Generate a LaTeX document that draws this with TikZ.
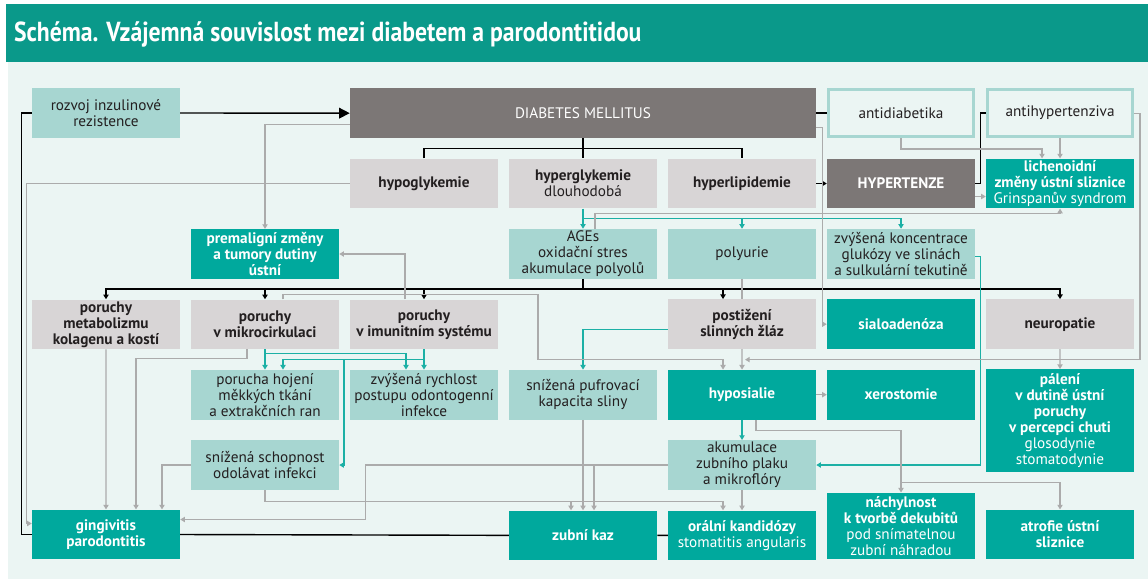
\documentclass[tikz,border=0pt]{standalone}
\usepackage{fontspec}
\setmainfont{PT Sans}
\newfontfamily\titlefont[FakeStretch=0.86]{PT Sans}
\usetikzlibrary{arrows.meta, positioning, calc}
\definecolor{barteal}{HTML}{0A998A}
\definecolor{boxteal}{HTML}{00A99D}
\definecolor{ltteal}{HTML}{A7D6D1}
\definecolor{lgray}{HTML}{D8D5D6}
\definecolor{dgray}{HTML}{7C7776}
\definecolor{bgtint}{HTML}{EBF5F3}
\definecolor{ink}{HTML}{231F20}
\definecolor{lnteal}{HTML}{1CB0A5}
\definecolor{lngray}{HTML}{ABABAB}
\newcommand\bx{\fontsize{13}{13.7}\selectfont}

\begin{document}
\begin{tikzpicture}[x=0.03cm,y=-0.03cm,node distance=2.11cm and 4.77cm,on grid,
      >={Triangle[length=4pt,width=4.5pt]},
      box/.style={rectangle,minimum width=4.44cm,minimum height=1.49cm,align=center,inner sep=1pt,font=\bx},
      lt/.style={box,fill=ltteal,text=ink},
      tl/.style={box,fill=boxteal,text=white,font=\bx\bfseries},
      gr/.style={box,fill=lgray,text=ink,font=\bx\bfseries},
      dg/.style={box,fill=dgray,text=white},
      ol/.style={box,draw=ltteal,line width=2.5pt,fill=bgtint,minimum width=4.35cm,minimum height=1.4cm,text=ink},
      blk/.style={draw=black,line width=1.2pt},
      gln/.style={draw=lngray,line width=1pt},
      tln/.style={draw=lnteal,line width=1.1pt}]
  \useasboundingbox (0,0) rectangle (1148,579);
  \fill[bgtint] (8,62) rectangle (1148,579);
  \fill[barteal] (6,4) rectangle (1148,62);
  \node[anchor=west,text=white,font=\titlefont\bfseries\fontsize{23.5}{26}\selectfont] (title) at (10,34)
    {Schéma. Vzájemná souvislost mezi diabetem a parodontitidou};

  \node[lt] (rozvoj) at (106,113) {rozvoj inzulinové\\rezistence};
  \node[gr] (hypo) at (424,183.5) {hypoglykemie};
  \node[gr] (hyper) [right=of hypo] {hyperglykemie\\\mdseries dlouhodobá};
  \node[gr] (lipid) [right=of hyper] {hyperlipidemie};
  \node[dg,font=\bx\bfseries] (hypert) [right=of lipid] {HYPERTENZE};
  \node[tl] (lichen) [right=of hypert] {lichenoidní\\změny ústní sliznice\\\mdseries Grinspanův syndrom};
  \node[dg,minimum width=13.98cm] (dm) [above=of hyper] {DIABETES MELLITUS};
  \node[ol] (antid) [above=of hypert] {antidiabetika};
  \node[ol] (antih) [above=of lichen] {antihypertenziva};

  \node[tl] (premal) at (265,254) {premaligní změny\\a tumory dutiny\\ústní};
  \node[lt] (ages) [below=of hyper] {AGEs\\oxidační stres\\akumulace polyolů};
  \node[lt] (polyur) [below=of lipid] {polyurie};
  \node[lt] (konc) [below=of hypert] {zvýšená koncentrace\\glukózy ve slinách\\a sulkulární tekutině};

  \node[gr] (mikro) [below=of premal] {poruchy\\v mikrocirkulaci};
  \node[gr] (metab) [left=of mikro] {poruchy\\metabolizmu\\kolagenu a kostí};
  \node[gr] (imun) [right=of mikro] {poruchy\\v imunitním systému};
  \node[gr] (postiz) [below=of polyur] {postižení\\slinných žláz};
  \node[tl] (sialo) [below=of konc] {sialoadenóza};
  \node[gr] (neuro) [right=of sialo] {neuropatie};

  \node[lt] (hojeni) [below=of mikro] {porucha hojení\\měkkých tkání\\a extrakčních ran};
  \node[lt] (rychl) [below=of imun] {zvýšená rychlost\\postupu odontogenní\\infekce};
  \node[lt] (pufr) [right=of rychl] {snížená pufrovací\\kapacita sliny};
  \node[tl] (hypos) [right=of pufr] {hyposialie};
  \node[tl] (xero) [right=of hypos] {xerostomie};
  \node[tl,minimum height=3.09cm,anchor=north] (paleni) at (1060,369)
    {pálení\\v dutině ústní\\poruchy\\v percepci chuti\\\mdseries glosodynie\\\mdseries stomatodynie};

  \node[lt] (odol) [below=of hojeni] {snížená schopnost\\odolávat infekci};
  \node[lt] (plak) [below=of hypos] {akumulace\\zubního plaku\\a mikroflóry};

  \node[tl] (gingi) at (106,534.5) {gingivitis\\parodontitis};
  \node[tl] (kaz) [below=4.22cm of pufr] {zubní kaz};
  \node[tl] (kandid) [below=of plak] {orální kandidózy\\\mdseries stomatitis angularis};
  \node[tl,minimum height=1.98cm,anchor=south] (dekub) at (901,559)
    {náchylnost\\k tvorbě dekubitů\\\mdseries pod snímatelnou\\\mdseries zubní náhradou};
  \node[tl] (atrof) at (1060,534.5) {atrofie ústní\\sliznice};

  % black
  \draw[blk] (kandid.west) -- (kaz.east);
  \draw[blk] (kaz.west) -- (gingi.east);
  \draw[blk] (gingi.west) -- ++(-10,0) |- (rozvoj.west);
  \draw[blk,-{Triangle[length=9pt,width=9pt]}] (rozvoj.east) -- (dm.west);
  \draw[blk] (dm.east) -- (antid.west);
  \draw[blk,->] (lipid.east) -- (hypert.west);
  \draw[blk] (hypert.east) -- ++(5,0) |- (antih.west);
  \draw[blk] (hypo.north) |- ($(dm.south)+(0,10)$) -| (lipid.north);
  \draw[blk] (dm.south) -- (hyper.north);
  \draw[blk] (ages.south) -- ++(0,10) coordinate (a0);
  \foreach \t in {metab, mikro, imun, neuro}
    \draw[blk,->] (a0) -| (\t.north);
  \draw[blk,->] (a0) -| ($(postiz.north)+(-19,0)$);

  % teal
  \draw[tln] (hyper.south) -- ++(0,10) coordinate (h0);
  \draw[tln,->] (h0) -- (ages.north);
  \draw[tln,->] (h0) -| (polyur.north);
  \draw[tln,->] (h0) -| (konc.north);
  \draw[tln,->] ($(konc.east)+(0,3)$) -- ++(5,0) |- (plak.east);
  \draw[tln,->] ($(postiz.west)+(0,5)$) -| (pufr.north);
  \draw[tln,->] (hypos.south) -- (plak.north);
  \draw[tln] (mikro.south) -- ++(0,4) coordinate (m0);
  \draw[tln,->] (mikro.south) -- (hojeni.north);
  \draw[tln,->] (m0) -| ($(rychl.north)+(-18,0)$);
  \draw[tln] (imun.south) -- ++(0,10) coordinate (i0);
  \draw[tln,->] (imun.south) -- (rychl.north);
  \draw[tln,->] (i0) -| ($(hojeni.north)+(18,0)$);
  \draw[tln,->] (i0) -- ++(-80,0) |- (odol.east);

  % gray
  \draw[gln,->] ($(dm.west)+(0,11)$) -| (premal.north);
  \draw[gln,->] (hypo.west) -- ++(-323,0) |- ($(gingi.west)+(0,-11)$);
  \draw[gln,->] ($(dm.east)+(0,14)$) -- ++(6,0) |- (sialo.west);
  \draw[gln,->] (antid.south) -- ++(0,11) -| ($(lichen.north)+(-18,0)$);
  \draw[gln,->] (antih.south) -- (lichen.north);
  \draw[gln,->] ($(hypert.east)+(0,13)$) -- ($(lichen.west)+(0,13)$);
  \draw[gln,->] ($(ages.north)+(12,0)$) -- ++(0,-15) -| (lichen.south);
  \draw[gln,->] (antih.east) -- ++(6,0) |- ($(hypos.north)+(3,-10)$);
  \draw[gln] (polyur.south) -- (postiz.north);
  \draw[gln,->] (postiz.south) -- (hypos.north);
  \draw[gln,->] ($(imun.north)+(-19,0)$) |- (premal.east);
  \draw[gln,->] ($(mikro.north)+(18,0)$) -- ++(0,-5) -- ++(255,0) |- ($(hypos.north)+(-19,-10)$) -- ($(hypos.north)+(-19,0)$);
  \draw[gln,->] ($(mikro.south)+(-18,0)$) -- ++(0,9) -| ($(gingi.north)+(30,0)$);
  \draw[gln,->] (metab.south) -- (gingi.north);
  \draw[gln,->] (odol.west) -| ($(gingi.north)+(56,0)$);
  \draw[gln,->] (plak.west) -- ++(-302,0) |- ($(gingi.east)+(0,-15)$);
  \draw[gln,->] (plak.west) -| ($(kaz.north)+(11,0)$);
  \draw[gln,->] (plak.south) -- (kandid.north);
  \draw[gln,->] (odol.south) -- ++(0,11) -| ($(kaz.north)+(-12,0)$);
  \draw[gln,->] (odol.south) -- ++(0,11) -| ($(kandid.north)+(-19,0)$);
  \draw[gln,->] (pufr.south) -- (kaz.north);
  \draw[gln,->] ($(hypos.south)+(14,0)$) -- ++(0,11) -| (dekub.north);
  \draw[gln,->] ($(dekub.north)+(0,-10)$) -| (atrof.north);
  \draw[gln,->] (hypos.east) -- (xero.west);
  \draw[gln,->] (neuro.south) -- (paleni.north);
\end{tikzpicture}
\end{document}
